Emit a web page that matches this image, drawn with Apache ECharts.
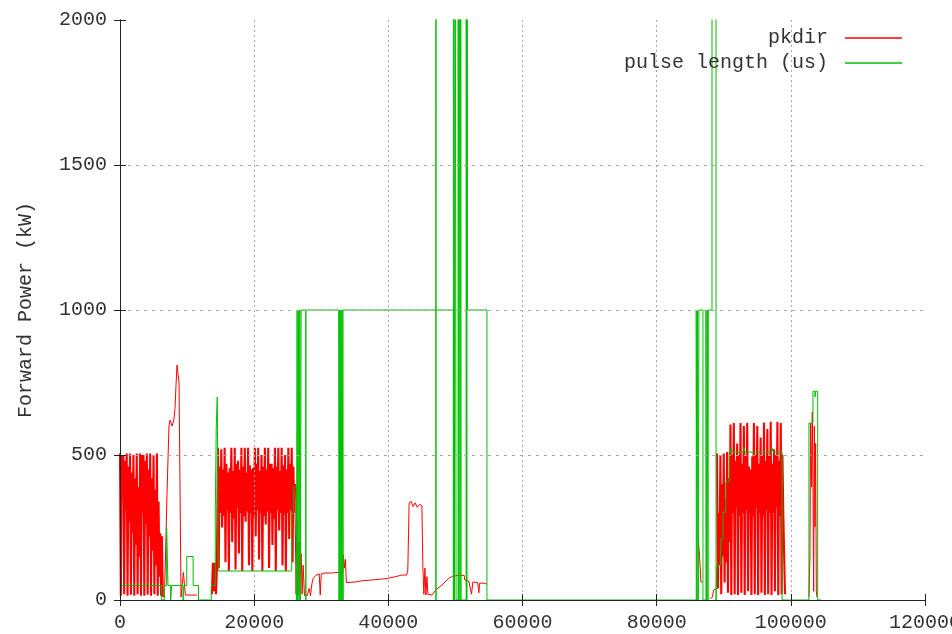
<!DOCTYPE html>
<html>
<head>
<meta charset="utf-8">
<title>Forward Power</title>
<script src="https://cdn.jsdelivr.net/npm/echarts@6/dist/echarts.min.js"></script>
<style>
  html, body { margin: 0; padding: 0; background: #fff; }
  #chart { width: 952px; height: 634px; }
</style>
</head>
<body>
<div id="chart"></div>
<script>
// Axis ranges and ticks
const xTicks = { min: 0, max: 120000, interval: 20000 };
const yTicks = { min: 0, max: 2000, interval: 500 };
const seriesNames = ['pkdir', 'pulse length (us)'];

// pkdir, pulsed runs: consecutive readings (kW) logged every 125 samples
const burstA = { start: 0, step: 125, kw: [
  505, 15, 500, 355,  500, 20, 480, 310,  505, 15, 460, 270,  505, 18, 440, 230,
  500, 15, 420, 190,  505, 20, 390, 150,  505, 15, 500, 300,  500, 15, 480, 260,
  505, 18, 450, 220,  505, 15, 420, 170,  500, 20, 380, 120,  505, 15, 340, 80,
  230, 15, 220, 10
] };
const burstB = { start: 14600, step: 125, kw: [
  525, 110, 460, 300,  520, 250, 450, 290,  525, 130, 470, 310,  440, 100, 455, 300,
  525, 200, 445, 280,  525, 105, 470, 320,  480, 160, 450, 300,  525, 100, 460, 290,
  525, 270, 440, 305,  525, 120, 465, 300,  450, 100, 455, 285,  525, 220, 470, 310,
  525, 140, 445, 300,  500, 100, 460, 290,  525, 260, 450, 305,  525, 110, 470, 300,
  470, 190, 455, 280,  525, 100, 460, 310,  525, 240, 445, 300,  525, 120, 465, 295,
  500, 100, 450, 300,  525, 210, 470, 310,  525, 130, 460, 300,  400
] };
const burstC = { start: 89000, step: 125, kw: [
  505, 40, 300, 120,  500, 20, 400, 150,  505, 60, 350, 130,  510, 25, 420, 200,
  605, 17, 500, 300,  610, 20, 480, 320,  540, 17, 500, 290,  610, 25, 470, 300,
  600, 17, 500, 310,  610, 30, 460, 300,  450, 17, 495, 290,  610, 20, 500, 320,
  600, 17, 470, 300,  560, 25, 500, 290,  612, 17, 480, 310,  590, 20, 500, 300,
  615, 17, 470, 300,  520, 30, 500, 320,  615, 17, 480, 290,  610, 20, 500, 300,
  300, 20
] };

// pkdir, slower stretches: [sample, kW]
const pkdirRamp = [
  [6600, 8], [6750, 120], [6900, 125], [7000, 360], [7150, 365], [7300, 600],
  [7450, 620], [7600, 612], [7750, 600], [7900, 610], [8050, 625], [8200, 660],
  [8350, 740], [8500, 810], [8650, 780], [8800, 750], [9000, 745], [9100, 10],
  [9300, 15], [9450, 95], [9650, 95], [9750, 17], [11500, 17]
];
const pkdirLead = [
  [13700, 20], [13850, 128], [14000, 30], [14150, 128], [14300, 20], [14450, 110]
];
const pkdirLong = [
  [25975, 400], [26100, 310], [26250, 20], [26400, 280], [26550, 15], [26700, 200],
  [26850, 25], [27000, 160], [27150, 20], [27300, 120], [27500, 15], [27900, 15],
  [28200, 40], [28400, 15], [28600, 55], [28800, 75], [29200, 85], [29700, 90],
  [29850, 17], [30000, 90], [30500, 93], [31500, 93], [32500, 95], [33200, 95],
  [33300, 155], [33450, 110], [33600, 140], [33750, 60], [34000, 58], [35000, 62],
  [36000, 66], [37000, 68], [38000, 70], [39000, 72], [40000, 75], [41000, 80],
  [42000, 86], [42700, 86], [42900, 100], [43100, 335], [43400, 340], [43700, 322],
  [44000, 335], [44300, 320], [44700, 330], [45000, 325], [45150, 113], [45300, 20],
  [45450, 110], [45600, 17], [45750, 80], [45900, 20], [46500, 17], [47100, 35],
  [48000, 52], [49000, 75], [49600, 82], [50500, 85], [51300, 85], [51400, 69],
  [52000, 65], [52400, 20], [52600, 62], [53300, 60], [53500, 25], [53600, 58],
  [54200, 58], [54700, 55]
];
const pkdirShort = [
  [86200, 214], [86400, 150], [86600, 62], [86800, 62]
];
const pkdirRise = [
  [88000, 5], [88300, 10], [88500, 35], [88700, 40], [89000, 40]
];
const pkdirLast = [
  [102700, 10], [102850, 150], [102950, 610], [103100, 390], [103200, 648],
  [103300, 400], [103400, 30], [103500, 600], [103600, 252], [103700, 540],
  [103800, 30], [103900, 10]
];

// pulse length (us): value changes [sample, new length]; drawn as a step line
const pulseLength = [
  [0, 50], [6200, 0], [6600, 50], [6950, 250], [7150, 50], [7550, 0], [7700, 50],
  [9400, 0], [9550, 50], [9950, 150], [10900, 50], [11700, 0], [13600, 50],
  [14200, 300], [14350, 600], [14500, 700], [14650, 100], [25600, 300], [25900, 390],
  [26300, 0], [26400, 1000], [26500, 0], [26600, 1000], [26700, 0], [26800, 1000],
  [26900, 0], [27000, 1000], [27700, 0], [27700, 1000],
  [32650, 0], [32650, 1000], [32800, 0], [32800, 1000], [32950, 0], [32950, 1000],
  [33100, 0], [33100, 1000], [33250, 0], [33250, 1000],
  [47100, 3000], [47100, 0], [47100, 1000],
  [49700, 0], [49700, 3000], [49850, 0], [49950, 3000], [50100, 0], [50400, 3000],
  [50500, 0], [50600, 3000], [50700, 0], [50800, 3000], [50850, 0],
  [51600, 3000], [51700, 0], [51750, 3000], [51800, 1000], [54700, 0],
  [85900, 1000], [86000, 0], [86100, 1000], [86200, 0], [86300, 1000], [86900, 0],
  [87350, 1000], [87450, 0], [87550, 1000], [87650, 0], [87700, 1000], [88250, 3000],
  [88850, 0], [88950, 120], [89500, 210], [89900, 303], [90300, 407], [90800, 510],
  [91100, 525], [91300, 510], [93000, 525], [93200, 510], [97200, 525], [97400, 510],
  [98700, 0], [102700, 610], [103300, 720], [103600, 700], [103700, 720], [104000, 0],
  [104500, 0]
];

// readings of a pulsed run sit at regular sample numbers
function runPoints(run) {
  return run.kw.map(function (v, i) { return [run.start + i * run.step, v]; });
}

// pulsed runs are packed tightly, so they get a slightly heavier stroke
const gap = [null, null];
const pkdirPulsed = [].concat(
  runPoints(burstA), [gap], pkdirLead, runPoints(burstB), [gap], runPoints(burstC)
);
const pkdirSlow = [].concat(
  pkdirRamp, [gap], pkdirLong, [gap], pkdirShort, [gap], pkdirRise, [gap], pkdirLast
);

const FONT = '"Liberation Mono", "DejaVu Sans Mono", monospace';
const TEXT = '#333';
const BORDER = '#222';
const RED = '#ff0000';
const GREEN = '#00c000';
const plainNumber = function (v) { return String(v); };

const mainAxisCommon = {
  type: 'value',
  axisLine: { show: true, lineStyle: { color: BORDER, width: 1 } },
  axisTick: { show: true, inside: true, length: 6, lineStyle: { color: BORDER } },
  axisLabel: { color: TEXT, fontFamily: FONT, fontSize: 20, margin: 13, formatter: plainNumber },
  z: 10
};
const mirrorAxisCommon = {
  type: 'value',
  axisLine: { show: true, lineStyle: { color: BORDER, width: 1 } },
  axisTick: { show: true, inside: true, length: 6, lineStyle: { color: BORDER } },
  axisLabel: { show: false },
  splitLine: { show: false },
  z: 12
};

function lineSeries(name, data, color, width, z, extra) {
  return Object.assign({
    name: name,
    type: 'line',
    data: data,
    xAxisIndex: 0, yAxisIndex: 0,
    showSymbol: false, symbol: 'none',
    connectNulls: false,
    clip: true,
    lineStyle: { color: color, width: width },
    itemStyle: { color: color },
    z: z
  }, extra || {});
}

const chart = echarts.init(document.getElementById('chart'), null, { renderer: 'canvas' });
chart.setOption({
  animation: false,
  backgroundColor: '#fff',
  grid: { left: 120, right: 27, top: 20, bottom: 34, containLabel: false, outerBoundsMode: 'none' },
  legend: {
    data: seriesNames,
    orient: 'vertical',
    align: 'right',
    right: 50,
    top: 28,
    padding: 0,
    itemWidth: 57,
    itemHeight: 1.5,
    itemGap: 5,
    icon: 'rect',
    formatter: function (name) { return name + ' '; },
    textStyle: { color: TEXT, fontFamily: FONT, fontSize: 20, lineHeight: 20 },
    selectedMode: false
  },
  xAxis: [
    Object.assign({}, mainAxisCommon, {
      position: 'bottom',
      min: xTicks.min, max: xTicks.max, interval: xTicks.interval,
      splitLine: {
        show: true, showMinLine: false, showMaxLine: false,
        lineStyle: { color: '#a8a8a8', width: 1, type: [2, 3] }
      }
    }),
    Object.assign({}, mirrorAxisCommon, {
      position: 'top',
      min: xTicks.min, max: xTicks.max, interval: xTicks.interval
    })
  ],
  yAxis: [
    Object.assign({}, mainAxisCommon, {
      position: 'left',
      min: yTicks.min, max: yTicks.max, interval: yTicks.interval,
      name: 'Forward Power (kW)',
      nameLocation: 'middle',
      nameGap: 84,
      nameTextStyle: { color: TEXT, fontFamily: FONT, fontSize: 20 },
      splitLine: {
        show: true, showMinLine: false, showMaxLine: false,
        lineStyle: { color: '#a8a8a8', width: 1, type: [3, 5] }
      }
    }),
    Object.assign({}, mirrorAxisCommon, {
      position: 'right',
      min: yTicks.min, max: yTicks.max, interval: yTicks.interval
    })
  ],
  series: [
    lineSeries(seriesNames[0], pkdirSlow, RED, 1, 2),
    lineSeries(seriesNames[0], pkdirPulsed, RED, 2.1, 2),
    lineSeries(seriesNames[1], pulseLength, GREEN, 1, 3, { step: 'end' })
  ]
});
</script>
</body>
</html>
